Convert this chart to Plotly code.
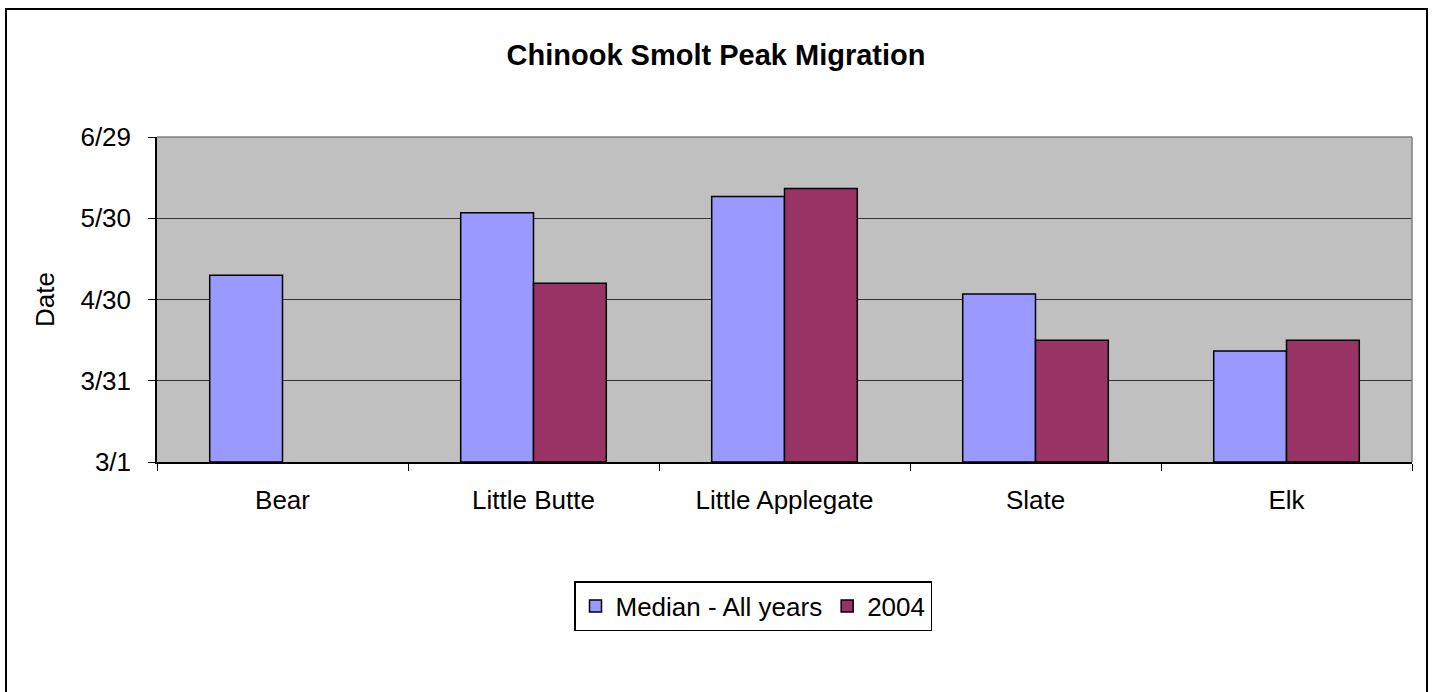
import pandas as pd
import plotly.graph_objects as go

# Peak migration dates by stream (month/day)
streams = ["Bear", "Little Butte", "Little Applegate", "Slate", "Elk"]
median_all_years = ["5/9", "6/1", "6/7", "5/2", "4/11"]
peak_2004 = [None, "5/6", "6/10", "4/15", "4/15"]
y_tick_labels = ["3/1", "3/31", "4/30", "5/30", "6/29"]

YEAR = 2004
origin = pd.Timestamp(f"{YEAR}-03-01")


def day_offset(md):
    """Days after 3/1 for a 'm/d' string (None stays None)."""
    if md is None:
        return None
    m, d = (int(p) for p in md.split("/"))
    return (pd.Timestamp(year=YEAR, month=m, day=d) - origin).days


median_days = [day_offset(v) for v in median_all_years]
days_2004 = [day_offset(v) for v in peak_2004]
tick_days = [day_offset(v) for v in y_tick_labels]

FONT = "Liberation Sans, Arial, sans-serif"
TXT = 26

fig = go.Figure()
fig.add_trace(go.Bar(
    name="Median - All years", x=streams, y=median_days,
    marker=dict(color="#9999FF", line=dict(color="black", width=1.5)),
    customdata=median_all_years, hovertemplate="%{x}: %{customdata}<extra></extra>",
))
fig.add_trace(go.Bar(
    name="2004", x=streams, y=days_2004,
    marker=dict(color="#993366", line=dict(color="black", width=1.5)),
    customdata=peak_2004, hovertemplate="%{x}: %{customdata}<extra></extra>",
))

L, R, T, B = 157, 21, 137, 230
W, H = 1433, 692
pw, ph = W - L - R, H - T - B


def px_x(px):
    return (px - L) / pw


def px_y(py):
    return (H - B - py) / ph


fig.update_layout(
    width=W, height=H,
    margin=dict(l=L, r=R, t=T, b=B, pad=0),
    paper_bgcolor="white",
    plot_bgcolor="#C0C0C0",
    barmode="group",
    bargap=0.42,
    bargroupgap=0,
    font=dict(family=FONT, size=TXT, color="black"),
    title=dict(
        text="<b>Chinook Smolt Peak Migration</b>",
        font=dict(family=FONT, size=29, color="black"),
        x=px_x(716), xref="paper", xanchor="center",
        y=1 - 55 / H, yref="container", yanchor="middle",
    ),
    xaxis=dict(
        showgrid=False,
        showline=True, linecolor="black", linewidth=1.5,
        ticks="outside", ticklen=7, tickcolor="black",
        tickson="boundaries",
        tickfont=dict(family=FONT, size=TXT),
        ticklabelstandoff=14,
    ),
    yaxis=dict(
        range=[tick_days[0], tick_days[-1]],
        tickvals=tick_days, ticktext=y_tick_labels,
        showgrid=True, gridcolor="#333333", gridwidth=1.2,
        showline=True, linecolor="black", linewidth=1.5,
        ticks="outside", ticklen=7, tickcolor="black",
        tickfont=dict(family=FONT, size=TXT),
        ticklabelstandoff=12,
        zeroline=False,
        title=dict(text="Date", font=dict(family=FONT, size=TXT), standoff=18),
    ),
    legend=dict(
        orientation="h",
        x=px_x(753), xanchor="center",
        y=px_y(606), yanchor="middle",
        bordercolor="black", borderwidth=1.5,
        bgcolor="white",
        font=dict(family=FONT, size=TXT),
        itemwidth=30,
        traceorder="normal",
    ),
    showlegend=True,
)

# Gray frame on the top and right sides of the plot area
fig.add_shape(type="line", xref="paper", yref="paper",
              x0=0, x1=1, y0=1, y1=1, line=dict(color="#808080", width=1.5))
fig.add_shape(type="line", xref="paper", yref="paper",
              x0=1, x1=1, y0=0, y1=1, line=dict(color="#808080", width=1.5))

# Outer chart border
fig.add_shape(type="rect", xref="paper", yref="paper",
              x0=px_x(6), x1=px_x(1427), y0=px_y(720), y1=px_y(9),
              line=dict(color="black", width=2), layer="below")

fig.write_html("out.html")
